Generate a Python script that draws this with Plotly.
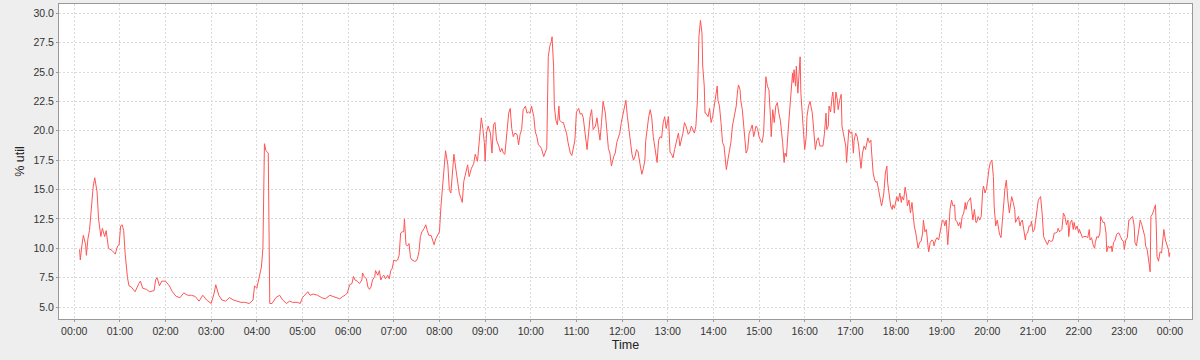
import pandas as pd
import plotly.graph_objects as go

# minute of day (0..1440) and % utilisation
minutes = [
    7, 8, 10, 12, 15, 16, 18, 20, 22, 25, 27, 30, 32, 35, 37, 40, 42, 45, 50, 54, 57, 59,
    61, 63, 65, 67, 70, 72, 75, 80, 85, 87, 90, 95, 99, 105, 107, 109, 112, 115, 120,
    125, 129, 134, 139, 144, 149, 154, 159, 164, 169, 174, 180, 184, 186, 190, 194,
    199, 204, 209, 214, 219, 224,
    230, 235, 237, 240, 243, 246, 248, 250, 252, 255, 257, 260, 265, 270, 274, 279,
    283, 287, 293, 297, 300, 305, 307, 310, 314, 320, 325, 330, 335,
    336, 340, 345, 349, 353, 356, 359, 362, 365, 367, 369, 372, 375, 378, 379, 381,
    384, 386, 388, 390, 392, 395, 396, 399, 401, 403, 405, 407, 409, 412, 414, 416,
    418, 420, 423, 425, 427, 429, 431, 433, 434, 436, 438, 440, 442, 444, 447, 449,
    451, 453, 455, 457, 460, 462, 464, 466, 469, 471, 473, 475, 477,
    480, 482, 484, 487, 488, 491, 493, 495, 497, 499, 501, 504, 506, 508, 510, 512,
    515, 517, 519, 522, 525, 527, 530, 533, 535, 537, 539, 540, 542, 544, 547, 549,
    551, 553, 555, 558, 560, 562, 564, 566, 568, 571, 573, 575, 577, 579, 582, 584,
    586, 588, 590, 593, 595, 597, 599, 601, 604, 606, 608, 610, 612, 614, 617, 619,
    621, 623, 625, 627, 628, 630, 631, 633, 635, 637, 638, 641, 643, 645, 647, 649,
    652, 654, 656, 658, 660, 663, 665, 667, 669, 671, 674, 676, 678, 680, 682, 685,
    687, 689, 691, 693, 695, 698, 700, 702, 704, 706, 709, 711, 713, 715,
    717, 719, 722, 724, 725, 727, 729, 731, 733, 735, 737, 739, 741, 744, 746, 748,
    750, 751, 753, 755, 757, 759, 761, 763, 766, 768, 770, 772, 774, 776, 778, 781,
    783, 785, 787, 789, 791, 794, 796, 798, 800, 802, 804, 807, 809, 811, 813, 815,
    817, 819, 821, 822, 823, 825, 826, 828, 829, 830, 833, 835, 837, 839, 841, 844,
    845, 846, 848, 850, 852, 854, 857, 859, 861, 863, 865, 867, 870, 872, 873, 875,
    876, 878, 880, 883, 885, 887, 889, 891, 893, 896, 898, 900, 902, 904, 906, 908,
    909, 911, 913, 915, 916, 918, 920, 922, 924, 926, 928, 931, 933, 934, 936, 938,
    940, 942, 944, 945, 946, 948, 949, 951, 953, 954, 955, 957, 958, 960, 962, 963,
    965, 967, 970, 972, 974, 976, 978, 980,
    984, 986, 988, 989, 991, 992, 994, 996, 997, 999, 1001, 1003, 1004, 1006, 1008,
    1009, 1011, 1012, 1014, 1015, 1017, 1018, 1020, 1022, 1024, 1025, 1027, 1029,
    1031, 1032, 1034, 1036, 1038, 1040, 1041, 1043, 1045, 1047, 1048, 1050, 1052,
    1054, 1055, 1057, 1059, 1061, 1062, 1064, 1066, 1068, 1069, 1071, 1073, 1075,
    1076, 1078, 1080, 1081, 1083, 1085, 1087, 1088, 1090, 1092, 1094, 1095, 1097,
    1099, 1101, 1102, 1104, 1106, 1108, 1109, 1111, 1113, 1115, 1116, 1118, 1120,
    1122, 1123, 1125, 1127, 1129, 1130, 1132, 1134, 1136, 1137, 1139, 1141, 1143,
    1144, 1146, 1148, 1150, 1151, 1153, 1155, 1157, 1158, 1160, 1162, 1164, 1165,
    1167, 1169, 1171, 1172, 1174, 1176, 1178, 1179, 1181, 1183, 1185, 1186, 1188,
    1190, 1192, 1194, 1195, 1197, 1199, 1201, 1202, 1204, 1206, 1208, 1209, 1211,
    1213, 1215, 1216, 1218, 1220, 1222, 1223, 1225, 1227,
    1229, 1231, 1232, 1234, 1236, 1237, 1239, 1241, 1243, 1244, 1246, 1248, 1250,
    1251, 1253, 1255, 1257, 1258, 1260, 1262, 1263, 1265, 1267, 1269, 1270, 1272,
    1274, 1276, 1278, 1279, 1281, 1283, 1285, 1286, 1288, 1290, 1292, 1293, 1295,
    1297, 1298, 1300, 1302, 1304, 1306, 1307, 1309, 1311, 1313, 1314, 1316, 1318,
    1320, 1321, 1323, 1325, 1327, 1328, 1330, 1332, 1334, 1335, 1337, 1339, 1341,
    1342, 1344, 1346, 1348, 1349, 1351, 1352, 1354, 1356, 1357, 1359, 1361, 1363,
    1364, 1366, 1368, 1370, 1372, 1373, 1375, 1377, 1379, 1380, 1382, 1384, 1386,
    1387, 1389, 1391, 1393, 1394, 1396, 1398, 1400, 1401, 1403, 1405, 1407, 1408,
    1410, 1412, 1414, 1415, 1417, 1419, 1421, 1422, 1423, 1425, 1427, 1429, 1430,
    1432, 1434, 1436, 1438, 1439, 1440,
]

util_pct = [
    9.9, 9.0, 10.2, 11.1, 10.3, 9.4, 10.8, 11.5, 13.0, 15.3, 16.0, 14.8, 12.5, 11.0, 11.7, 11.0, 11.5, 10.0, 9.8, 9.5, 10.2, 10.3,
    11.9, 12.0, 11.5, 9.5, 7.5, 6.8, 6.7, 6.3, 7.0, 7.2, 6.6, 6.5, 6.3, 6.4, 7.3, 7.5, 6.8, 7.2, 7.2,
    6.8, 6.3, 5.9, 5.8, 6.2, 6.0, 6.0, 5.9, 5.5, 6.0, 5.6, 5.3, 6.2, 6.9, 6.0, 5.6,
    5.5, 5.8, 5.6, 5.5, 5.4, 5.4,
    5.3, 5.6, 6.8, 6.6, 7.5, 8.4, 10.0, 18.9, 18.3, 18.1, 5.3, 5.3, 5.8, 6.0, 5.6, 5.3,
    5.5, 5.4, 5.4, 5.3, 5.8, 6.1, 6.3, 6.0, 6.1, 6.0, 5.8, 5.7, 5.9,
    6.0, 5.9, 5.8, 5.7, 5.9, 6.0, 6.2, 6.9, 7.0, 7.6, 7.3, 7.2, 7.0, 7.3, 7.9, 7.6,
    7.4, 6.7, 6.5, 6.7, 7.3, 7.6, 8.1, 7.7, 8.1, 7.3, 7.6, 7.7, 7.4, 7.7, 7.4, 8.1,
    8.3, 9.0, 8.9, 9.0, 9.4, 11.3, 11.4, 11.4, 12.5, 10.3, 10.2, 10.4, 9.2, 9.0, 8.9, 8.9,
    9.1, 9.7, 11.0, 11.4, 11.7, 12.0, 11.5, 11.1, 11.1, 10.6, 10.3, 10.8, 11.1,
    11.4, 13.6, 15.0, 17.3, 18.3, 17.1, 15.0, 14.7, 16.7, 18.0, 17.0, 15.6, 14.7, 14.3, 13.9, 15.7,
    16.5, 17.1, 16.1, 16.8, 17.2, 18.0, 17.4, 19.8, 21.1, 20.2, 19.0, 17.4, 19.9, 20.4, 19.8, 18.1,
    20.5, 20.7, 19.2, 18.7, 18.2, 18.5, 18.1, 18.0, 19.5, 21.5, 21.9, 20.2, 19.5, 19.8, 19.7, 18.8,
    19.7, 20.1, 21.8, 22.1, 21.5, 21.6, 21.5, 22.1, 21.2, 19.9, 19.5, 18.8, 18.7, 18.5, 17.8, 18.1,
    18.5, 26.3, 27.2, 27.6, 28.0, 25.5, 22.1, 20.9, 20.5, 22.1, 20.9, 20.7, 20.7, 20.2, 19.8, 19.0,
    18.1, 17.9, 18.7, 19.2, 21.6, 21.9, 21.4, 21.5, 21.1, 19.9, 18.4, 19.8, 21.2, 21.8, 20.1, 20.4,
    21.1, 20.1, 19.2, 20.7, 22.5, 21.5, 19.7, 18.5, 18.1, 17.0, 17.8, 18.1, 19.0, 19.4,
    19.8, 20.7, 21.8, 22.2, 22.6, 21.2, 20.1, 19.0, 18.0, 17.5, 17.8, 18.4, 18.2, 17.0, 16.3, 16.8,
    17.5, 19.1, 20.4, 21.2, 21.8, 21.1, 19.5, 18.7, 17.3, 19.2, 19.5, 19.4, 20.7, 21.2, 20.2, 21.2,
    18.2, 18.0, 17.7, 18.4, 19.0, 19.8, 18.7, 19.2, 19.8, 20.7, 20.4, 19.7, 19.9, 20.4, 20.1, 19.8,
    20.4, 22.6, 28.0, 28.6, 29.4, 28.3, 25.5, 23.8, 21.5, 21.5, 21.2, 21.9, 20.7, 21.2, 22.1, 23.2,
    23.8, 22.6, 22.1, 20.7, 19.0, 18.7, 16.7, 17.5, 18.4, 19.0, 20.4, 21.2, 22.1, 23.5, 23.9, 23.5,
    22.6, 21.8, 20.1, 18.1, 18.4, 19.8, 20.1, 20.5, 19.5, 20.4, 20.2, 19.5, 19.2, 19.0, 19.8, 22.6,
    24.6, 23.8, 23.5, 21.2, 19.5, 21.8, 20.7, 22.1, 22.4, 21.5, 20.9, 19.0, 17.3, 18.1, 17.8, 19.8,
    21.5, 22.6, 24.9, 24.1, 25.2, 23.8, 25.5, 23.2, 26.0, 26.3, 23.2, 21.2, 19.8, 18.4, 19.5, 21.2,
    22.1, 22.5, 21.5, 19.5, 18.4, 19.2, 19.4, 18.7,
    18.7, 19.8, 21.5, 20.1, 20.4, 22.1, 21.6, 22.9, 23.3, 21.5, 23.3, 22.6, 21.8, 22.6, 23.1,
    20.4, 19.7, 19.7, 18.7, 17.3, 19.2, 20.1, 19.8, 19.9, 18.1, 19.2, 19.8, 19.5,
    18.7, 18.1, 16.8, 18.1, 18.7, 18.4, 18.7, 19.4, 19.0, 19.2, 18.1, 16.4, 15.8,
    15.6, 15.7, 15.0, 14.1, 13.6, 13.9, 14.7, 16.4, 17.0, 15.6, 14.7, 13.6, 13.3,
    13.7, 13.4, 14.1, 14.4, 14.0, 14.7, 13.9, 14.4, 14.1, 15.2, 14.4, 13.6, 14.1,
    13.0, 13.9, 13.0, 11.9, 11.3, 10.2, 10.0, 10.5, 10.6, 11.3, 12.4, 11.4, 11.6,
    10.2, 9.7, 10.5, 10.7, 10.6, 10.2, 10.7, 10.9, 10.7, 11.0, 11.6, 12.4, 12.3,
    11.9, 12.4, 10.3, 12.2, 13.3, 14.1, 13.6, 13.7, 12.4, 12.3, 11.9, 12.2, 11.7,
    12.7, 13.0, 13.9, 13.3, 13.9, 14.1, 14.3, 13.6, 12.4, 13.3, 12.2, 12.2, 12.7,
    12.4, 12.7, 15.0, 15.3, 14.7, 15.1, 16.1, 16.7, 17.3, 17.5, 16.1, 13.6, 11.9,
    12.4, 11.6, 11.2, 10.9, 13.0, 14.1, 15.0, 15.8, 14.1,
    13.0, 13.9, 14.4, 13.9, 13.3, 12.2, 12.4, 12.7, 11.9, 12.2, 12.4, 11.3, 10.7,
    11.2, 11.3, 11.9, 11.9, 12.3, 11.4, 11.6, 12.2, 13.0, 14.1, 14.3, 14.4, 13.0,
    11.0, 10.7, 10.3, 10.3, 10.7, 10.6, 10.6, 10.7, 11.3, 11.3, 11.4, 11.7, 11.4,
    11.6, 11.6, 13.0, 12.7, 12.0, 12.4, 11.0, 12.2, 12.4, 11.6, 12.2, 11.6, 11.9,
    11.3, 11.6, 11.3, 10.9, 11.0, 11.0, 11.0, 10.9, 11.6, 10.7, 10.9, 10.3, 10.0,
    10.5, 11.0, 10.9, 11.3, 12.7, 12.4, 12.2, 12.2, 11.3, 9.7, 10.2, 10.0, 10.2,
    9.7, 10.5, 10.7, 11.2, 11.3, 11.3, 11.0, 10.7, 10.6, 9.9, 10.7, 10.9, 12.4,
    12.4, 12.6, 12.7, 11.9, 10.5, 10.2, 11.3, 12.2, 12.4, 12.0, 11.6, 11.0, 10.2,
    9.9, 9.0, 8.0, 12.7, 12.9, 13.3, 13.7, 11.9, 9.3, 8.9, 9.7, 9.6, 10.5,
    11.6, 10.7, 10.2, 9.9, 9.3, 9.6,
]

y_ticks = [5.0, 7.5, 10.0, 12.5, 15.0, 17.5, 20.0, 22.5, 25.0, 27.5, 30.0]

base = pd.Timestamp("2024-01-01 00:00")
times = base + pd.to_timedelta(minutes, unit="m")

fig = go.Figure(
    go.Scatter(
        x=times, y=util_pct, mode="lines",
        line=dict(color="#ff5555", width=1),
        hoverinfo="skip",
    )
)

axis_font = dict(family="Liberation Sans, Arial, sans-serif", size=10.5, color="#333333")

fig.update_layout(
    width=1200, height=360,
    margin=dict(l=59, r=8, t=4, b=41),
    paper_bgcolor="#eeeeee",
    plot_bgcolor="#ffffff",
    showlegend=False,
    font=dict(family="Liberation Sans, Arial, sans-serif", color="#333333"),
)

fig.update_xaxes(
    range=[base - pd.Timedelta(minutes=20), base + pd.Timedelta(minutes=1469)],
    tickformat="%H:%M", dtick=3600000,
    tick0=base,
    showgrid=True, gridcolor="#dadada", gridwidth=1, griddash="2px,2px",
    showline=True, mirror=True, linecolor="#999999", linewidth=1,
    ticks="outside", ticklen=2, tickcolor="#999999",
    tickfont=axis_font, zeroline=False,
    title=dict(text="Time", font=dict(size=12.5, color="#222222"), standoff=4),
)

fig.update_yaxes(
    range=[3.98, 30.79],
    tickvals=y_ticks, tickformat=".1f",
    showgrid=True, gridcolor="#dadada", gridwidth=1, griddash="2px,2px",
    showline=True, mirror=True, linecolor="#999999", linewidth=1,
    ticks="outside", ticklen=2, tickcolor="#999999",
    tickfont=axis_font, zeroline=False,
    title=dict(text="% util", font=dict(size=12.5, color="#222222"), standoff=6),
)

fig.write_html("out.html")
